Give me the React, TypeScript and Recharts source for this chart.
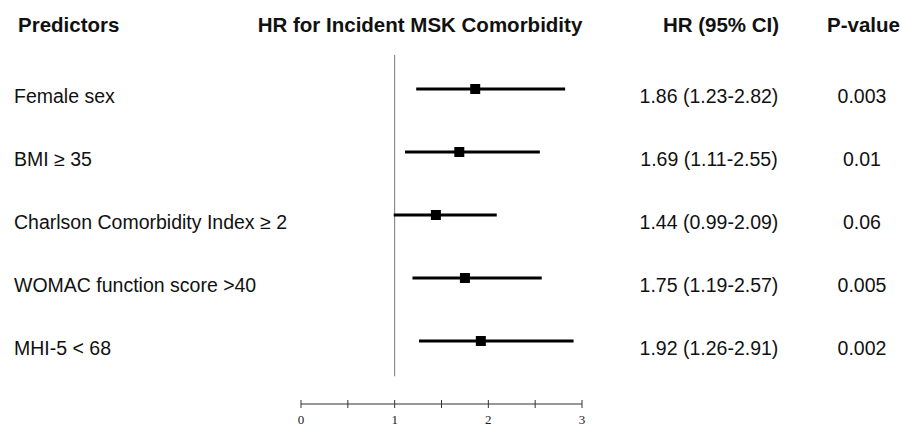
import { ScatterChart, Scatter, XAxis, YAxis, ErrorBar, ReferenceLine } from 'recharts'

const predictors = [
  'Female sex',
  'BMI ≥ 35',
  'Charlson Comorbidity Index ≥ 2',
  'WOMAC function score >40',
  'MHI-5 < 68',
]
const hrValues = [1.86, 1.69, 1.44, 1.75, 1.92]
const ciLower = [1.23, 1.11, 0.99, 1.19, 1.26]
const ciUpper = [2.82, 2.55, 2.09, 2.57, 2.91]
const pValues = ['0.003', '0.01', '0.06', '0.005', '0.002']
const xTicks = [0, 0.5, 1, 1.5, 2, 2.5, 3]
const rowTicks = [1, 2, 3, 4, 5]

const SANS = '"Liberation Sans", Arial, sans-serif'
const SERIF = '"Liberation Serif", "Times New Roman", serif'

// one point per predictor, CI as asymmetric x error
const rows = predictors.map((name, i) => ({
  name,
  hr: hrValues[i],
  row: i + 1,
  ci: [hrValues[i] - ciLower[i], ciUpper[i] - hrValues[i]],
}))

function RowLabels(props: any) {
  const { y, payload } = props
  const i = payload.value - 1
  if (i < 0 || i >= predictors.length) return null
  const ty = y + 14
  return (
    <g fontFamily={SANS} fontSize={19.5} fill="#111">
      <text x={14} y={ty} textAnchor="start">{predictors[i]}</text>
      <text x={709} y={ty} textAnchor="middle">
        {`${hrValues[i].toFixed(2)} (${ciLower[i].toFixed(2)}-${ciUpper[i].toFixed(2)})`}
      </text>
      <text x={862} y={ty} textAnchor="middle">{pValues[i]}</text>
    </g>
  )
}

function AxisTick(props: any) {
  const { x, y, payload } = props
  // label position sits tickSize + tickMargin below the axis line
  const axisY = y - 12
  const v = payload.value
  return (
    <g>
      <line x1={x} x2={x} y1={axisY - 4} y2={axisY + 4} stroke="#333" strokeWidth={1} />
      {Number.isInteger(v) && (
        <text x={x} y={axisY + 20} textAnchor="middle" fontFamily={SERIF} fontSize={13} fill="#222">
          {v}
        </text>
      )}
    </g>
  )
}

function Square(props: any) {
  const { cx, cy } = props
  return <rect x={cx - 5} y={cy - 5} width={10} height={10} fill="#000" />
}

export default function App() {
  return (
    <div style={{ position: 'absolute', left: 0, top: 0, width: 903, height: 429, background: '#fff' }}>
      <ScatterChart width={903} height={429} margin={{ top: 26, right: 321, bottom: 0, left: 0 }}>
        <XAxis
          type="number"
          dataKey="hr"
          domain={[0, 3]}
          ticks={xTicks}
          interval={0}
          height={25}
          axisLine={{ stroke: '#333', strokeWidth: 1 }}
          tickLine={false}
          tickSize={4}
          tickMargin={8}
          tick={<AxisTick />}
        />
        <YAxis
          type="number"
          dataKey="row"
          domain={[0, 6]}
          reversed
          ticks={rowTicks}
          interval={0}
          width={301}
          axisLine={false}
          tickLine={false}
          tick={<RowLabels />}
        />
        <ReferenceLine
          segment={[{ x: 1, y: 0.46 }, { x: 1, y: 5.56 }]}
          stroke="#777"
          strokeWidth={1}
        />
        <Scatter data={rows} shape={<Square />} isAnimationActive={false}>
          <ErrorBar dataKey="ci" direction="x" width={0} stroke="#000" strokeWidth={3} isAnimationActive={false} />
        </Scatter>
      </ScatterChart>
      <svg
        width={903}
        height={50}
        style={{ position: 'absolute', left: 0, top: 0, pointerEvents: 'none' }}
      >
        <g fontFamily={SANS} fontSize={20.5} fontWeight="bold" fill="#111">
          <text x={18} y={32}>Predictors</text>
          <text x={420} y={32} textAnchor="middle">HR for Incident MSK Comorbidity</text>
          <text x={721} y={32} textAnchor="middle">HR (95% CI)</text>
          <text x={827} y={32}>P-value</text>
        </g>
      </svg>
    </div>
  )
}
